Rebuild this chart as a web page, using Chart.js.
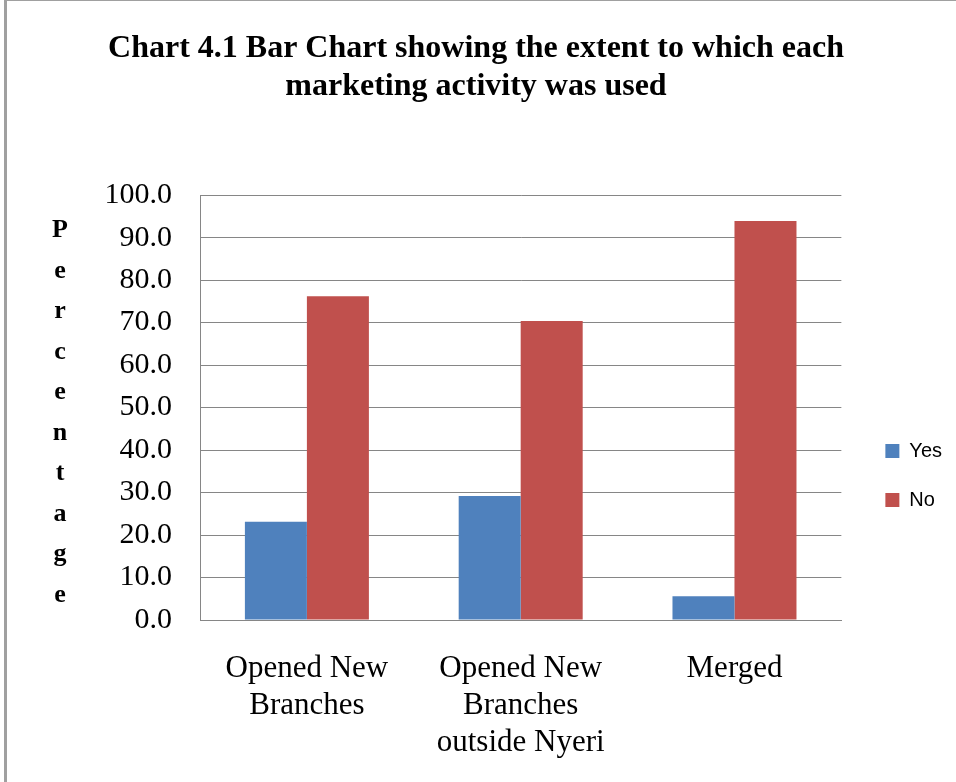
<!DOCTYPE html>
<html>
<head>
<meta charset="utf-8">
<script src="https://cdn.jsdelivr.net/npm/chart.js@4.4.1/dist/chart.umd.min.js"></script>
<style>
  html, body { margin: 0; padding: 0; background: #fff; }
  #wrap { width: 956px; height: 782px; position: relative; }
</style>
</head>
<body>
<div id="wrap"><canvas id="chart" width="956" height="782"></canvas></div>
<script>
// data
const categories = [['Opened New', 'Branches'], ['Opened New', 'Branches', 'outside Nyeri'], ['Merged']];
const yesValues = [23.1, 29.2, 5.6];
const noValues = [76.2, 70.4, 93.9];
const yTicks = [0, 10, 20, 30, 40, 50, 60, 70, 80, 90, 100];
const axisWord = 'Percentage';

const serif = '"Liberation Serif", "Times New Roman", serif';
const gridGray = '#868686';

// stacked vertical letters for the y axis title + the page edge line
const decor = {
  id: 'decor',
  beforeDraw(chart) {
    const ctx = chart.ctx;
    ctx.save();
    ctx.fillStyle = '#a0a0a0';
    ctx.fillRect(4, 0, 3, 782);
    ctx.fillRect(4, 0, 952, 1);
    ctx.restore();
  },
  afterDraw(chart) {
    const ctx = chart.ctx;
    const area = chart.chartArea;
    const step = 40.5;
    const mid = (area.top + area.bottom) / 2 + 5;
    const start = mid - step * (axisWord.length - 1) / 2;
    ctx.save();
    ctx.font = 'bold 26px ' + serif;
    ctx.fillStyle = '#000';
    ctx.textAlign = 'center';
    ctx.textBaseline = 'middle';
    axisWord.split('').forEach((ch, i) => ctx.fillText(ch, 60, start + i * step));
    ctx.restore();
  }
};

new Chart(document.getElementById('chart'), {
  type: 'bar',
  data: {
    labels: categories,
    datasets: [
      { label: 'Yes', data: yesValues, backgroundColor: '#4F81BD', categoryPercentage: 0.58, barPercentage: 1.0 },
      { label: 'No', data: noValues, backgroundColor: '#C0504D', categoryPercentage: 0.58, barPercentage: 1.0 }
    ]
  },
  options: {
    responsive: false,
    animation: false,
    devicePixelRatio: 1,
    layout: { padding: { left: 0, right: 4, top: 0, bottom: 0 } },
    plugins: {
      title: {
        display: true,
        text: ['Chart 4.1 Bar Chart showing the extent to which each', 'marketing activity was used'],
        font: { family: serif, size: 32, weight: 'bold', lineHeight: 1.19 },
        color: '#000',
        padding: { top: 30, bottom: 89 }
      },
      legend: {
        position: 'right',
        fullSize: false,
        title: { display: true, text: ' ', font: { size: 10 }, padding: { top: 60, bottom: 64 } },
        labels: {
          boxWidth: 14, boxHeight: 14, padding: 29,
          font: { family: '"Liberation Sans", Arial, sans-serif', size: 20 },
          color: '#000'
        }
      },
      tooltip: { enabled: false }
    },
    scales: {
      x: {
        grid: { display: false },
        border: { display: true, color: gridGray, width: 1 },
        ticks: { color: '#000', font: { family: serif, size: 31, lineHeight: 1.2 }, padding: 22, maxRotation: 0, autoSkip: false },
        afterFit(s) { s.height = 162; }
      },
      y: {
        min: 0, max: 100,
        afterBuildTicks(s) { s.ticks = yTicks.map(v => ({ value: v })); },
        grid: { color: gridGray, lineWidth: 1, drawTicks: false },
        border: { display: true, color: gridGray, width: 1 },
        ticks: { color: '#000', font: { family: serif, size: 30 }, padding: 28, callback: v => v.toFixed(1) },
        afterFit(s) { s.width = 200; }
      },
      spacer: {
        position: 'right',
        display: true,
        grid: { display: false },
        border: { display: false },
        ticks: { display: false },
        afterFit(s) { s.width = 15; }
      }
    }
  },
  plugins: [decor]
});
</script>
</body>
</html>
